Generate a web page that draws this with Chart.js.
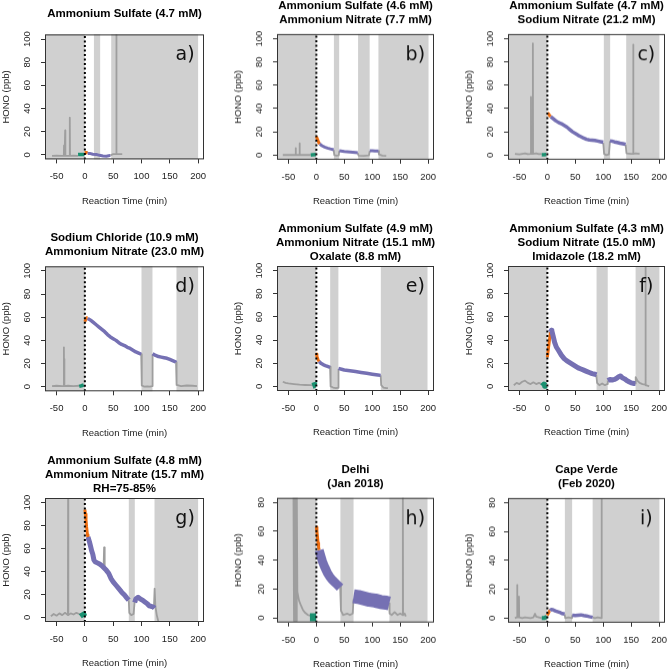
<!DOCTYPE html>
<html>
<head>
<meta charset="utf-8">
<script src="https://cdn.jsdelivr.net/npm/chart.js@4.4.1/dist/chart.umd.min.js"></script>
<style>
  html, body { margin: 0; padding: 0; background: #fff; width: 670px; height: 669px; overflow: hidden; }
  .panel { position: absolute; }
</style>
</head>
<body>
<script>
// tick values
const xTicks = [-50, 0, 50, 100, 150, 200];
const yTicks100 = [0, 20, 40, 60, 80, 100];
const yTicks80 = [0, 20, 40, 60, 80];

// a) Ammonium Sulfate
const aBands = [[-70.4, 0], [16, 27], [46.5, 200]];
const aGray = [[-58,-1],[-50,-0.8],[-40,-1],[-37.2,-1],[-36.8,8],[-36.4,-1],[-35.2,-1],[-34.8,21],[-34.4,-1],[-27,-1],[-26.6,32],[-26.2,-1],[-20,-0.8],[-12,-1],
  null,[45,-0.5],[50,0.5],[55.2,0.5],[55.6,110],[56,0.5],[60,0.5],[66,0.5]];
const aGreen = [[-12,0.2],[-8,0.3],[-4,0.2],[-1,0.3]];
const aOrange = [[0,1.5],[2,2],[5,1.5]];
const aPurple = [[5,1],[8.5,1.2],[14,0.5],[20,0.3],[26,-0.5],[32,-1],[38,-1.2],[42,-0.8],[45,-0.5]];

// b) Ammonium Sulfate + Ammonium Nitrate
const bBands = [[-70.4, 0], [31.4, 40.8], [74.6, 95.3], [111, 200.6]];
const bGray = [[-60,0],[-50,0.2],[-40,0],[-37.4,0],[-37,6],[-36.6,0],[-30.4,0],[-30,10],[-29.6,0],[-20,0.2],[-10,0],
  null,[31,4.5],[32,0],[36,-0.5],[40,-0.3],[41,3.5],
  null,[74,1.8],[75.5,-0.5],[85,-0.8],[94,-0.3],[95.5,3.5],
  null,[111,3.5],[112,0.5],[118,-0.5],[125,-0.8]];
const bGreen = [[-10,0],[-6,0.2],[-1,0.5]];
const bOrange = [[0,16],[2,13.5],[4,11],[6,9.6]];
const bPurple = [[6,9.6],[10,8],[15,6.8],[20,6],[25,5.3],[31,4.6],
  null,[41,3.6],[50,3],[60,2.6],[70,2.2],[74,2],
  null,[95.5,3.6],[100,3.7],[105,3.4],[111,3.4]];

// c) Ammonium Sulfate + Sodium Nitrate
const cBands = [[-70.4, 0], [101, 112.3], [141, 200.4]];
const cGray = [[-58,1],[-50,0.5],[-40,1.5],[-35,0.8],[-29.6,1],[-29.3,50],[-29,1],[-26.2,1],[-25.9,96],[-25.6,1],[-20,1.5],[-15,0.8],[-10,1],
  null,[100,10.5],[101.5,1],[105,0],[110,0.5],[112,12],
  null,[140,9],[141.5,1.5],[150,1],[153.3,1],[153.6,95],[153.9,1],[158,1.5],[165,1]];
const cGreen = [[-10,0.3],[-6,0.2],[-2,0.5]];
const cOrange = [[0,36],[2,35.5],[4,34],[6,33]];
const cPurple = [[6,33],[10,31.5],[15,29.5],[20,28],[25,27],[30,25.5],[35,24],[40,22],[45,20],[50,18.5],[55,17],[60,15.8],[65,14.5],[70,13.5],[75,13],[80,12.8],[85,12.5],[90,12],[95,11.5],[100,11],
  null,[112,12.2],[115,12],[120,11.3],[125,10.8],[130,10.2],[135,9.8],[140,9.2]];

// d) Sodium Chloride + Ammonium Nitrate
const dBands = [[-70.4, 0], [100, 119.4], [161.8, 200]];
const dGray = [[-58,0.5],[-50,0.8],[-40,0.5],[-37.3,0.5],[-37,34],[-36.6,0.5],[-36.3,24],[-36,0.5],[-30,0.8],[-20,0.5],[-10,0.8],
  null,[99.5,28],[100.5,1],[105,0],[110,0.3],[115,0],[119,0.5],[119.6,28],
  null,[161,21],[162,1.5],[170,0.5],[180,1],[190,0.8],[198,0.5]];
const dGreen = [[-10,0.3],[-6,0.8],[-2,1.5]];
const dOrange = [[0,56],[1.5,58],[3,59.5],[5,59.5]];
const dPurple = [[5,59],[10,57.5],[15,55.5],[20,53.5],[25,51.5],[30,49.5],[35,47.5],[40,45],[45,43],[50,41.5],[55,40],[60,38],[65,36.5],[70,35.5],[75,34],[80,33],[85,31.5],[90,30],[95,29],[99.5,28],
  null,[119.6,28.5],[125,27],[130,26],[135,25.5],[140,25],[145,24.5],[150,23.5],[155,22.5],[160,21.5],[161,21]];

// e) Ammonium Sulfate + Ammonium Nitrate + Oxalate
const eBands = [[-70.4, 0], [24.7, 39.4], [115.3, 198.8]];
const eGray = [[-60,4],[-55,3],[-50,2.5],[-40,2],[-30,1.5],[-20,1.2],[-10,1],[-5,0.8],
  null,[24.5,17],[25.5,0],[30,-1],[35,-1.5],[39,-1.2],[39.6,15],
  null,[115,9.5],[116,1],[120,-1],[125,-1.5],[128,-1.5]];
const eGreen = [[-7,0.5],[-4,1],[-2,1.2],[0,0.8]];
const eOrange = [[0,28],[1,26],[3,23],[5,21.5]];
const ePurple = [[5,21.5],[8,20],[12,18.8],[16,18],[20,17.3],[24.5,16.5],
  null,[39.6,15.5],[45,14.8],[50,14.2],[60,13.5],[70,12.8],[80,12],[90,11.3],[100,10.5],[110,9.8],[115,9.5]];

// f) Ammonium Sulfate + Sodium Nitrate + Imidazole
const fBands = [[-70.4, 0], [88, 108], [157.8, 200.4]];
const fGray = [[-60,1],[-55,3],[-50,2],[-45,4],[-40,5],[-35,3],[-30,2],[-25,3.5],[-20,2],[-15,3],[-10,2],
  null,[87.5,10],[89,3],[93,1],[98,2.5],[103,1],[107,2],[108,5],
  null,[157,2.5],[158,8],[161,5],[165,3],[170,2],[175,1.5],[175.5,110],[176,1],[180,0.5],[182,0]];
const fGreen = [[-8,0],[-6,1.5],[-4,0.5],[-2,1]];
const fOrange = [[0,25],[2,33],[4,41],[5.5,47]];
const fPurple = [[5.5,47],[7,48.5],[8,48],[10,44],[13,38],[16,34],[20,31],[25,27],[30,24],[35,22],[40,20.5],[45,19],[50,17.5],[55,16],[60,15],[65,14],[70,13],[75,12],[80,11],[85,10.5],[88,10],
  null,[108,5],[112,6],[116,5.5],[120,6],[124,7],[128,8.5],[131,9],[134,7.5],[138,6.5],[142,5],[146,4],[150,3],[155,2.5],[157.5,2.5]];

// g) Ammonium Sulfate + Ammonium Nitrate, RH=75-85%
const gBands = [[-70.4, 0], [77.6, 88.2], [123, 200]];
const gGray = [[-60,1],[-55,3],[-50,1.5],[-45,3.5],[-40,2],[-35,4],[-30,2],[-29.6,110],[-29.2,2],[-25,3.5],[-20,2.5],[-15,4],[-10,3],[-6,2],
  null,[33,42],[34,61],[35,41],
  null,[77.5,15],[78.5,4],[82,2],[86,3],[88,14],
  null,[122,9],[123.2,25],[124.5,10],[127,2],[130,-4]];
const gGreen = [[-8,1],[-5,2],[-2,3],[0,1]];
const gOrange = [[0,94],[1,90],[2,85],[3,79],[4.5,72],[5.5,70]];
const gPurple = [[5.5,70],[8,66],[10,62],[12,58],[14,55],[16,50],[18,48.5],[22,47.5],[26,46.5],[30,45],[34,43],[38,41],[42,38.5],[46,34],[50,31],[55,28],[60,25],[65,22],[70,19.5],[74,17],[77.5,15],
  null,[88,13],[90,16],[94,17.5],[98,16],[102,15],[106,13.5],[110,12],[114,10],[118,9.5],[121,9],[123,8]];

// h) Delhi (Jan 2018)
const hBands = [[-70.4, 0], [43, 66.5], [130.6, 198.8]];
const hGray = [[-41,90],[-40,-2],[-39,90],[-38,-2],[-37,90],[-36,-2],[-35,90],[-34,18],[-31,12],[-28,9],[-24,5.5],[-20,3.5],[-15,2],[-11,1.5],
  null,[42.5,22],[44,5],[48,2],[55,3],[60,2],[65,3],[66.5,13],
  null,[130,10],[131,3],[135,2],[140,4],[145,2],[150,3],[154.3,2],[154.7,90],[155.1,2],[158,3],[160,1]];
const hGreen = [[-11.5,0.5],[-6,0.5],[-0.5,0.5]];
const hOrange = [[0,63],[1,60],[2,56],[3,52],[4,49],[5,47]];
const hPurple = [[5,47],[8,43],[11,39],[14,36],[17,33.5],[20,31],[24,28.5],[28,26.5],[32,25],[36,23.5],[40,22],[42.5,21]];
const hPurpleLate = [[66.5,15],[75,14.5],[85,13.5],[95,12.5],[105,12],[115,11],[125,10.5],[130.5,10]];

// i) Cape Verde (Feb 2020)
const iBands = [[-70.4, 0], [31.3, 44.3], [81, 200.4]];
const iGray = [[-58,0],[-55,0.5],[-54.2,0.5],[-54,23],[-53.6,0.5],[-51,0.5],[-50.8,15],[-50.4,0.5],[-45,0],[-40,0.5],[-30,0],[-25,0.5],[-22,3],[-20,1],[-15,0.5],[-10,0],
  null,[31,2.5],[32,0],[38,0.5],[44,0],[44.5,2],
  null,[81,0.5],[85,0],[90,0.5],[96.6,0],[97,90],[97.4,0]];
const iGreen = [[-10,0],[-6,0],[-3,0.5],[-1,1]];
const iOrange = [[0,2],[2,3.5],[4,5],[5,5.2]];
const iPurple = [[5,5.2],[7,6],[10,5.8],[14,5],[18,4.5],[22,4],[26,3.2],[31,2.8],
  null,[44.5,2],[50,1.8],[55,2],[60,2.2],[65,1.8],[70,1.5],[75,1],[81,0.5]];

const panels = [
  {tag:'a)', title:['Ammonium Sulfate (4.7 mM)'], bands:aBands, gray:aGray, green:aGreen, orange:aOrange, purple:aPurple, yTicks:yTicks100, gap:20.5, pw:3, gw:3.5},
  {tag:'b)', title:['Ammonium Sulfate (4.6 mM)','Ammonium Nitrate (7.7 mM)'], bands:bBands, gray:bGray, green:bGreen, orange:bOrange, purple:bPurple, yTicks:yTicks100, gap:14.2, pw:3, gw:3.5},
  {tag:'c)', title:['Ammonium Sulfate (4.7 mM)','Sodium Nitrate (21.2 mM)'], bands:cBands, gray:cGray, green:cGreen, orange:cOrange, purple:cPurple, yTicks:yTicks100, gap:14.2, pw:3.5, gw:3.5},
  {tag:'d)', title:['Sodium Chloride (10.9 mM)','Ammonium Nitrate (23.0 mM)'], bands:dBands, gray:dGray, green:dGreen, orange:dOrange, purple:dPurple, yTicks:yTicks100, gap:14.6, pw:3.5, gw:3.5},
  {tag:'e)', title:['Ammonium Sulfate (4.9 mM)','Ammonium Nitrate (15.1 mM)','Oxalate (8.8 mM)'], bands:eBands, gray:eGray, green:eGreen, orange:eOrange, purple:ePurple, yTicks:yTicks100, gap:9.5, pw:3.5, gw:6},
  {tag:'f)', title:['Ammonium Sulfate (4.3 mM)','Sodium Nitrate (15.0 mM)','Imidazole (18.2 mM)'], bands:fBands, gray:fGray, green:fGreen, orange:fOrange, purple:fPurple, yTicks:yTicks100, gap:9.5, pw:5, gw:6},
  {tag:'g)', title:['Ammonium Sulfate (4.8 mM)','Ammonium Nitrate (15.7 mM)','RH=75-85%'], bands:gBands, gray:gGray, green:gGreen, orange:gOrange, purple:gPurple, yTicks:yTicks100, gap:9.5, pw:5, gw:5},
  {tag:'h)', title:['Delhi','(Jan 2018)'], bands:hBands, gray:hGray, green:hGreen, orange:hOrange, purple:hPurple, purple2:hPurpleLate, yTicks:yTicks80, gap:14, pw:9, pw2:14, gw:8},
  {tag:'i)', title:['Cape Verde','(Feb 2020)'], bands:iBands, gray:iGray, green:iGreen, orange:iOrange, purple:iPurple, yTicks:yTicks80, gap:14.2, pw:3.5, gw:4}
];

// page geometry of the plot boxes
const colL = [45, 277, 508], colW = [159, 157, 157];
const rowT = [34, 266, 498], rowH = [125, 125, 124];
const AX = 50, XH = 50, LH = 13.8;
const FONT = "'Liberation Sans', Arial, sans-serif";

function toPts(arr) {
  const out = [];
  let lastX = 0;
  arr.forEach(p => {
    if (p === null) { out.push({x: lastX, y: null}); }
    else { out.push({x: p[0], y: p[1]}); lastX = p[0]; }
  });
  return out;
}

function line(data, color, width) {
  return {data: toPts(data), borderColor: color, borderWidth: width, pointRadius: 0,
    tension: 0, spanGaps: false, fill: false, clip: 0, borderJoinStyle: 'round'};
}

panels.forEach((p, i) => {
  const L = colL[i % 3], W = colW[i % 3];
  const T = rowT[Math.floor(i / 3)], H = rowH[Math.floor(i / 3)];
  const yMax = p.yTicks[p.yTicks.length - 1];
  const yMin = -yMax * 0.04, yTop = yMax * 1.04;
  const titleH = p.title.length * LH + (p.gap - LH / 2);

  const div = document.createElement('div');
  div.className = 'panel';
  div.style.left = (L - AX) + 'px';
  div.style.top = (T - titleH) + 'px';
  div.style.width = (W + 2 * AX) + 'px';
  div.style.height = (titleH + H + XH) + 'px';
  const cv = document.createElement('canvas');
  div.appendChild(cv);
  document.body.appendChild(div);

  // grey shaded periods, box and panel letter
  const decor = {
    id: 'decor',
    beforeDatasetsDraw(chart) {
      const {ctx, chartArea: a, scales: {x}} = chart;
      ctx.save();
      ctx.fillStyle = '#d0d0d0';
      p.bands.forEach(b => {
        const x0 = Math.max(a.left, x.getPixelForValue(b[0]));
        const x1 = Math.min(a.right, x.getPixelForValue(b[1]));
        ctx.fillRect(x0, a.top, x1 - x0, a.bottom - a.top);
      });
      ctx.restore();
    },
    afterDraw(chart) {
      const {ctx, chartArea: a, scales: {x}} = chart;
      ctx.save();
      ctx.strokeStyle = '#333';
      ctx.lineWidth = 1;
      ctx.strokeRect(a.left + 0.5, a.top + 0.5, a.right - a.left - 1, a.bottom - a.top - 1);
      ctx.fillStyle = '#111';
      ctx.font = "19px 'DejaVu Sans', sans-serif";
      ctx.textAlign = 'center';
      ctx.textBaseline = 'middle';
      ctx.fillText(p.tag, x.getPixelForValue(177), a.top + 21);
      ctx.restore();
    }
  };

  const datasets = [
    line([[0, yMin], [0, yTop]], '#000', 2),
    line(p.purple, '#7570b3', p.pw)
  ];
  if (p.purple2) datasets.push(line(p.purple2, '#7570b3', p.pw2));
  datasets.push(line(p.orange, '#ee6e12', 3));
  datasets.push(line(p.green, '#1a9070', p.gw));
  datasets.push(line(p.gray, '#9e9e9e', 1.8));
  datasets[0].borderDash = [2, 2.5];

  new Chart(cv, {
    type: 'line',
    data: {datasets: datasets},
    plugins: [decor],
    options: {
      animation: false,
      responsive: true,
      maintainAspectRatio: false,
      events: [],
      layout: {padding: 0},
      plugins: {
        legend: {display: false},
        tooltip: {enabled: false},
        title: {
          display: true, text: p.title, color: '#000',
          font: {family: FONT, size: 11.5, weight: 'bold', lineHeight: 1.2},
          padding: {top: 0, bottom: p.gap - LH / 2}
        }
      },
      scales: {
        x: {
          type: 'linear', min: -70.4, max: 210.4,
          afterFit: s => { s.height = XH; },
          afterBuildTicks: s => { s.ticks = xTicks.map(v => ({value: v})); },
          grid: {drawOnChartArea: false, drawTicks: true, tickLength: 4, color: '#333'},
          border: {display: false},
          ticks: {padding: 7.5, color: '#222', maxRotation: 0, autoSkip: false, font: {family: FONT, size: 9.5}},
          title: {display: true, text: 'Reaction Time (min)', color: '#222', font: {family: FONT, size: 9.5}, padding: {top: 0, bottom: 2.6}}
        },
        y: {
          type: 'linear', position: 'left', min: yMin, max: yTop,
          afterFit: s => { s.width = AX; },
          afterBuildTicks: s => { s.ticks = p.yTicks.map(v => ({value: v})); },
          grid: {drawOnChartArea: false, drawTicks: true, tickLength: 4, color: '#333'},
          border: {display: false},
          ticks: {padding: 6, color: '#222', minRotation: 90, maxRotation: 90, crossAlign: 'center', autoSkip: false, font: {family: FONT, size: 9.5}},
          title: {display: true, text: 'HONO (ppb)', color: '#222', font: {family: FONT, size: 9.5}, padding: {top: 5.3, bottom: 0}}
        },
        yRight: {
          type: 'linear', position: 'right', display: true,
          afterFit: s => { s.width = AX; },
          grid: {display: false}, border: {display: false}, ticks: {display: false}
        }
      }
    }
  });
});
</script>
</body>
</html>
